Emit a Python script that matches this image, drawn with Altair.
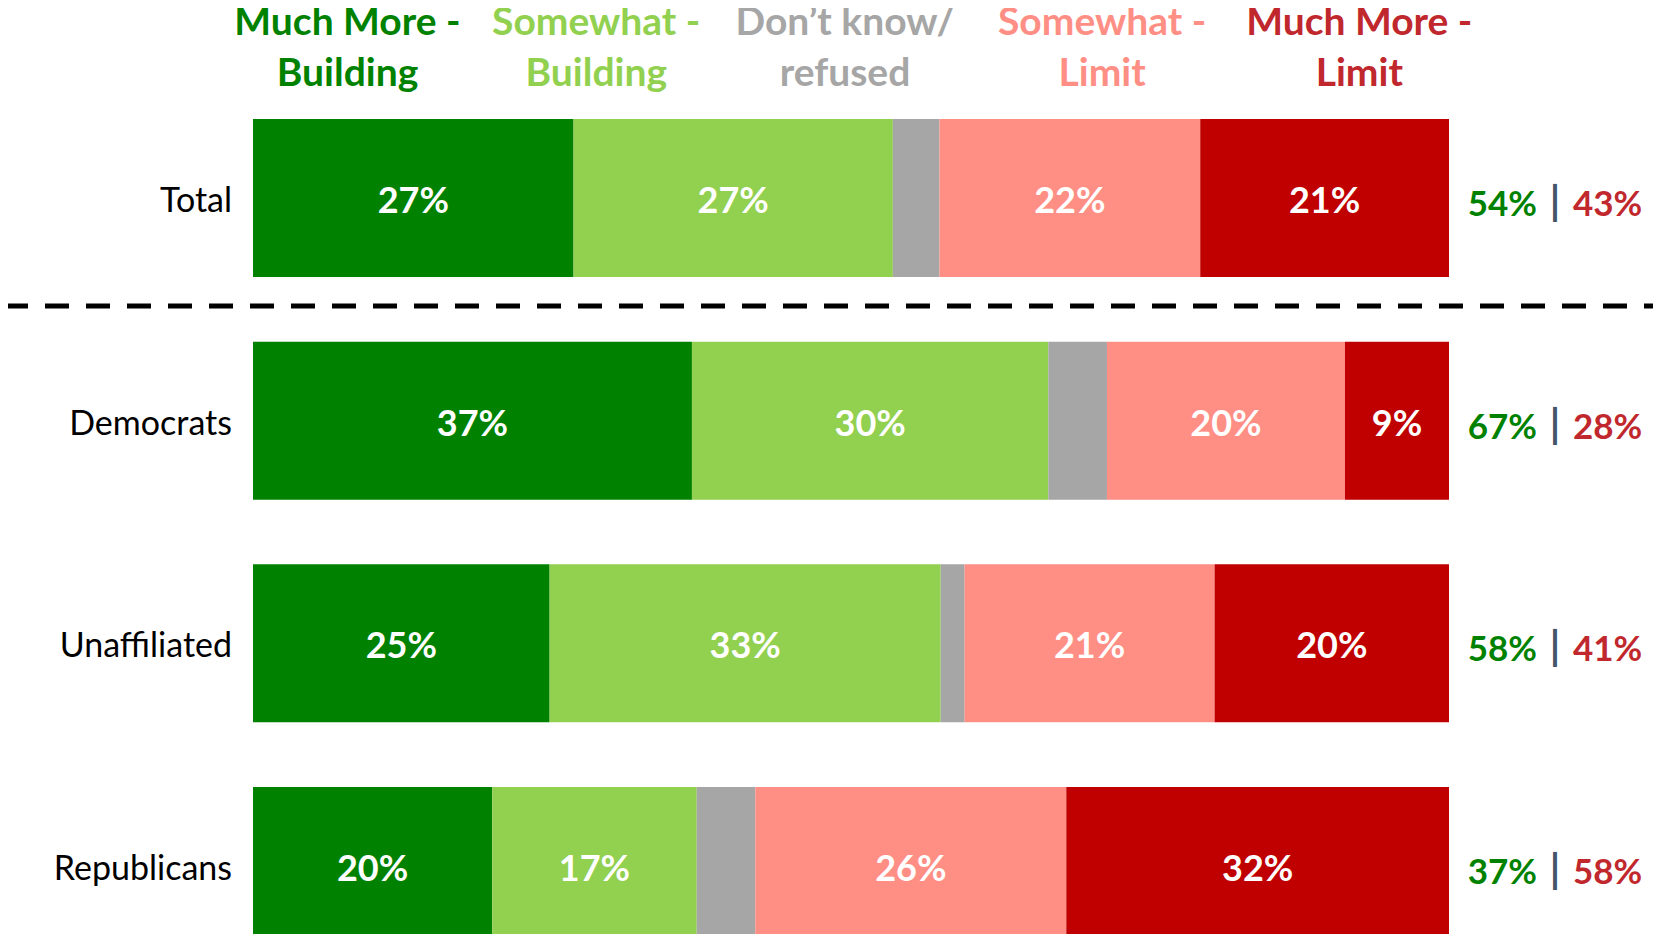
import altair as alt
import pandas as pd

rows = ["Total", "Democrats", "Unaffiliated", "Republicans"]
categories = ["Much More - Building", "Somewhat - Building", "Don’t know/ refused",
              "Somewhat - Limit", "Much More - Limit"]
much_building = [26.8, 36.7, 24.8, 20.0]
some_building = [26.7, 29.8, 32.7, 17.1]
dont_know = [3.9, 4.9, 2.0, 4.9]
some_limit = [21.8, 19.9, 20.9, 26.0]
much_limit = [20.8, 8.7, 19.6, 32.0]
net_building = [54, 67, 58, 37]
net_limit = [43, 28, 41, 58]

header_line1 = ["Much More -", "Somewhat -", "Don’t know/", "Somewhat -", "Much More -"]
header_line2 = ["Building", "Building", "refused", "Limit", "Limit"]
header_pos = [7.9, 28.7, 49.5, 71.0, 92.5]

bar_colors = ["#008200", "#92D050", "#A6A6A6", "#FF8F85", "#C00000"]
header_colors = ["#008200", "#92D050", "#A6A6A6", "#FF8F85", "#C0282D"]

FONT = "Lato"

series = [much_building, some_building, dont_know, some_limit, much_limit]
recs = []
for i, r in enumerate(rows):
    start = 0.0
    for j, cat in enumerate(categories):
        v = series[j][i]
        recs.append({
            "row": r, "category": cat, "order": j, "value": v,
            "start": start, "end": start + v, "mid": start + v / 2,
            "label": "" if j == 2 else f"{round(v)}%",
        })
        start += v
bars_df = pd.DataFrame(recs)

summary_df = pd.DataFrame({
    "row": rows,
    "x": [100] * len(rows),
    "green": [f"{v}%" for v in net_building],
    "red": [f"{v}%" for v in net_limit],
    "pipe": ["|"] * len(rows),
})
rowlab_df = pd.DataFrame({"row": rows, "x": [0] * len(rows)})
head_df = pd.DataFrame({"cat": categories, "x": header_pos,
                        "l1": header_line1, "l2": header_line2})

xscale = alt.Scale(domain=[0, 100], range=[245, 1441])
yscale = alt.Scale(domain=rows, range=[111, 937], paddingInner=0.29, paddingOuter=0)
color_scale = alt.Scale(domain=categories, range=bar_colors)
head_color_scale = alt.Scale(domain=categories, range=header_colors)

X = lambda f: alt.X(f, scale=xscale, axis=None)
Y = alt.Y("row:N", scale=yscale, axis=None, sort=rows)

bars = alt.Chart(bars_df).mark_bar().encode(
    x=X("start:Q"), x2="end:Q", y=Y,
    color=alt.Color("category:N", scale=color_scale, legend=None),
    order="order:Q",
)

bar_text = alt.Chart(bars_df).mark_text(
    font=FONT, fontSize=36, fontWeight="bold", color="white", baseline="middle", dy=4
).encode(x=X("mid:Q"), y=Y, text="label:N")

row_text = alt.Chart(rowlab_df).mark_text(
    font=FONT, fontSize=34, color="black", align="right", baseline="middle", dx=-21, dy=4
).encode(x=X("x:Q"), y=Y, text="row:N")

sum_green = alt.Chart(summary_df).mark_text(
    font=FONT, fontSize=35, fontWeight="bold", color="#008200", align="right",
    baseline="middle", dx=88, dy=7
).encode(x=X("x:Q"), y=Y, text="green:N")
sum_pipe = alt.Chart(summary_df).mark_text(
    font=FONT, fontSize=40, fontWeight="bold", color="#44546A", align="center",
    baseline="middle", dx=106, dy=5
).encode(x=X("x:Q"), y=Y, text="pipe:N")
sum_red = alt.Chart(summary_df).mark_text(
    font=FONT, fontSize=35, fontWeight="bold", color="#C0282D", align="left",
    baseline="middle", dx=124, dy=7
).encode(x=X("x:Q"), y=Y, text="red:N")

head1 = alt.Chart(head_df).mark_text(
    font=FONT, fontSize=39, fontWeight="bold", baseline="middle"
).encode(x=X("x:Q"), y=alt.value(15), text="l1:N",
         color=alt.Color("cat:N", scale=head_color_scale, legend=None))
head2 = alt.Chart(head_df).mark_text(
    font=FONT, fontSize=39, fontWeight="bold", baseline="middle"
).encode(x=X("x:Q"), y=alt.value(66), text="l2:N",
         color=alt.Color("cat:N", scale=head_color_scale, legend=None))

sep = alt.Chart(pd.DataFrame({"a": [0]})).mark_rule(
    color="black", strokeWidth=5, strokeDash=[24, 17]
).encode(x=alt.value(-4), x2=alt.value(1660), y=alt.value(298))

chart = alt.layer(bars, bar_text, row_text, sum_green, sum_pipe, sum_red,
                  head1, head2, sep).properties(
    width=1645, height=926, padding=0, autosize=alt.AutoSizeParams(type="none"),
    background="white",
).configure_view(stroke=None).resolve_scale(color="independent")

chart.save("out.html", embed_options={"renderer": "svg", "actions": False})
